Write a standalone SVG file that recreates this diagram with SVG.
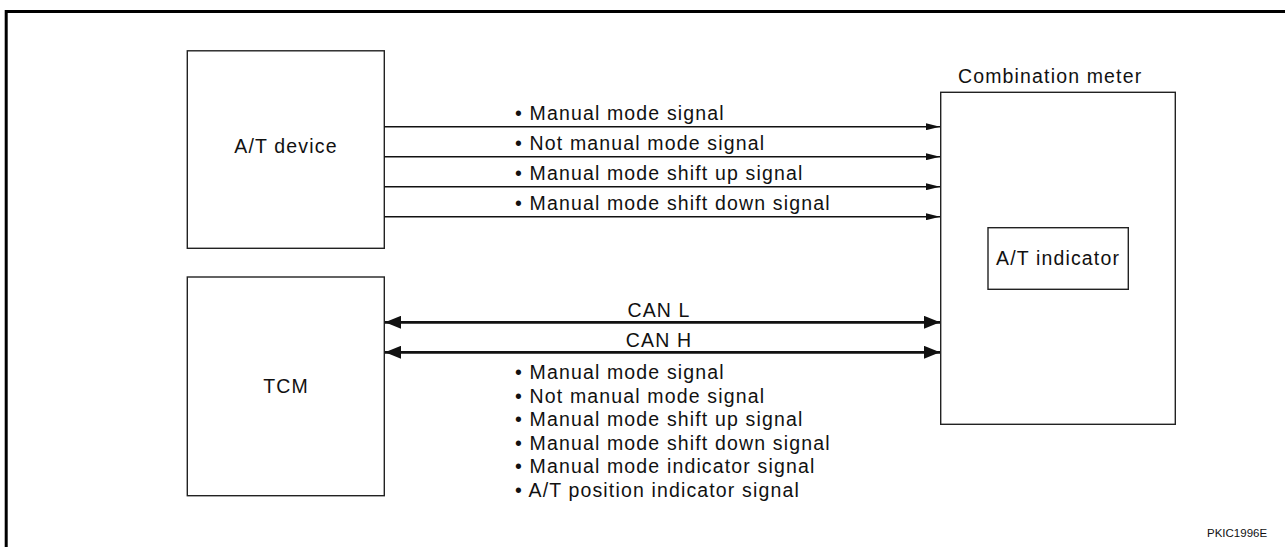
<svg xmlns="http://www.w3.org/2000/svg" width="1285" height="547" viewBox="0 0 1285 547">
<style>
  .box { fill: #fff; stroke: #222; stroke-width: 1.4; }
  .t { font-family: "Liberation Sans", Arial, sans-serif; font-size: 19.5px; letter-spacing: 1.15px; fill: #111; }
  .sig { stroke: #111; stroke-width: 1.4; fill: none; }
  .can { stroke: #111; stroke-width: 2.7; fill: none; }
</style>
<defs>
  <marker id="ah" viewBox="0 0 14 7" refX="14" refY="3.5" markerWidth="14" markerHeight="7" markerUnits="userSpaceOnUse" orient="auto">
    <path d="M0,0 L14,3.5 L0,7 Z" fill="#111"/>
  </marker>
  <marker id="ahc" viewBox="0 0 16 13" refX="16" refY="6.5" markerWidth="16" markerHeight="13" markerUnits="userSpaceOnUse" orient="auto-start-reverse">
    <path d="M0,0 L16,6.5 L0,13 Z" fill="#111"/>
  </marker>
</defs>
<rect width="1285" height="547" fill="#fff"/>
<path d="M6.2,547 V11.6 H1285" fill="none" stroke="#000" stroke-width="3"/>

<g id="at-device">
  <rect class="box" x="187.3" y="50.8" width="197" height="197.5"/>
  <text class="t" x="286" y="153.3" text-anchor="middle">A/T device</text>
</g>

<g id="tcm">
  <rect class="box" x="187.3" y="277" width="197" height="218.7"/>
  <text class="t" x="286" y="393" text-anchor="middle">TCM</text>
</g>

<g id="combination-meter">
  <rect class="box" x="940.7" y="92.3" width="234.6" height="332"/>
  <text class="t" x="958" y="83.3">Combination meter</text>
</g>

<g id="at-indicator">
  <rect class="box" x="988" y="227.7" width="140.3" height="61.6"/>
  <text class="t" x="1058" y="264.5" text-anchor="middle">A/T indicator</text>
</g>

<g id="connectors">
  <line class="sig" x1="384.3" y1="126.7" x2="940" y2="126.7" marker-end="url(#ah)"/>
  <line class="sig" x1="384.3" y1="156.7" x2="940" y2="156.7" marker-end="url(#ah)"/>
  <line class="sig" x1="384.3" y1="186.7" x2="940" y2="186.7" marker-end="url(#ah)"/>
  <line class="sig" x1="384.3" y1="216.7" x2="940" y2="216.7" marker-end="url(#ah)"/>
  <line class="can" x1="385" y1="322.3" x2="940" y2="322.3" marker-start="url(#ahc)" marker-end="url(#ahc)"/>
  <line class="can" x1="385" y1="352.3" x2="940" y2="352.3" marker-start="url(#ahc)" marker-end="url(#ahc)"/>
</g>

<g id="labels">
  <text class="t" x="515" y="119.5">• Manual mode signal</text>
  <text class="t" x="515" y="149.5">• Not manual mode signal</text>
  <text class="t" x="515" y="179.5">• Manual mode shift up signal</text>
  <text class="t" x="515" y="209.5">• Manual mode shift down signal</text>
  <text class="t" x="659" y="316.5" text-anchor="middle">CAN L</text>
  <text class="t" x="659" y="346.5" text-anchor="middle">CAN H</text>
  <text class="t" x="515" y="379">• Manual mode signal</text>
  <text class="t" x="515" y="402.6">• Not manual mode signal</text>
  <text class="t" x="515" y="426.2">• Manual mode shift up signal</text>
  <text class="t" x="515" y="449.8">• Manual mode shift down signal</text>
  <text class="t" x="515" y="473.4">• Manual mode indicator signal</text>
  <text class="t" x="515" y="497">• A/T position indicator signal</text>
</g>

<text x="1207" y="537" style="font-family: 'Liberation Sans', Arial, sans-serif; font-size: 11.5px; fill: #111;">PKIC1996E</text>
</svg>
